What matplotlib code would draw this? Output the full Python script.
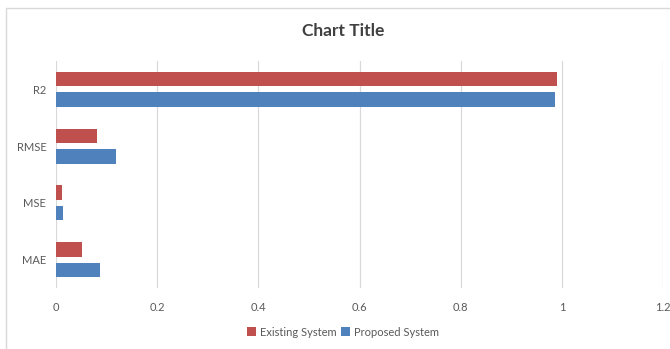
import numpy as np
import matplotlib
matplotlib.use("Agg")
import matplotlib.pyplot as plt
from matplotlib.patches import Rectangle

plt.rcParams['font.family'] = ['Lato', 'DejaVu Sans']

# data
metrics = ["MAE", "MSE", "RMSE", "R2"]
existing = [0.051, 0.011, 0.082, 0.990]
proposed = [0.086, 0.014, 0.118, 0.986]

RED = "#C0504D"
BLUE = "#4F81BD"
GRID = "#D9D9D9"
TXT = "#595959"

W, H = 670, 349
fig = plt.figure(figsize=(W / 100, H / 100), dpi=100)
ax = fig.add_axes([56 / W, 61 / H, (663 - 56) / W, (288 - 61) / H])

# light chart border like the Excel chart area
fig.patches.append(Rectangle((6 / W, -0.1), 1.2, (H - 8) / H + 0.1,
                             transform=fig.transFigure, fill=False,
                             edgecolor="#D9D9D9", linewidth=1.0))

y = np.arange(len(metrics))
off = 0.181
h = 0.252
ax.barh(y + off, existing, height=h, color=RED, label="Existing System", zorder=3)
ax.barh(y - off, proposed, height=h, color=BLUE, label="Proposed System", zorder=3)

ax.set_xlim(0, 1.2)
ax.set_ylim(-0.5, len(metrics) - 0.5)
ax.set_xticks(np.arange(0, 1.21, 0.2))
ax.set_xticklabels(["0", "0.2", "0.4", "0.6", "0.8", "1", "1.2"])
ax.set_yticks(y)
ax.set_yticklabels(metrics)
ax.grid(axis="x", color=GRID, linewidth=0.9, zorder=0)
for s in ax.spines.values():
    s.set_visible(False)
ax.tick_params(axis="both", length=0, colors=TXT, labelsize=8)
ax.tick_params(axis="x", pad=10)
ax.tick_params(axis="y", pad=7)

fig.text(343 / W, 1 - 30.5 / H, "Chart Title", ha="center", va="center",
         fontsize=12.5, fontweight="bold", color="#404040")

handles, labels = ax.get_legend_handles_labels()
fig.legend(handles, labels, loc="center", bbox_to_anchor=(343 / W, 1 - 332 / H),
           ncol=2, frameon=False, fontsize=8, handlelength=0.8, handleheight=0.8,
           handletextpad=0.4, columnspacing=0.4, labelcolor=TXT)

fig.savefig("out.png", dpi=100)
